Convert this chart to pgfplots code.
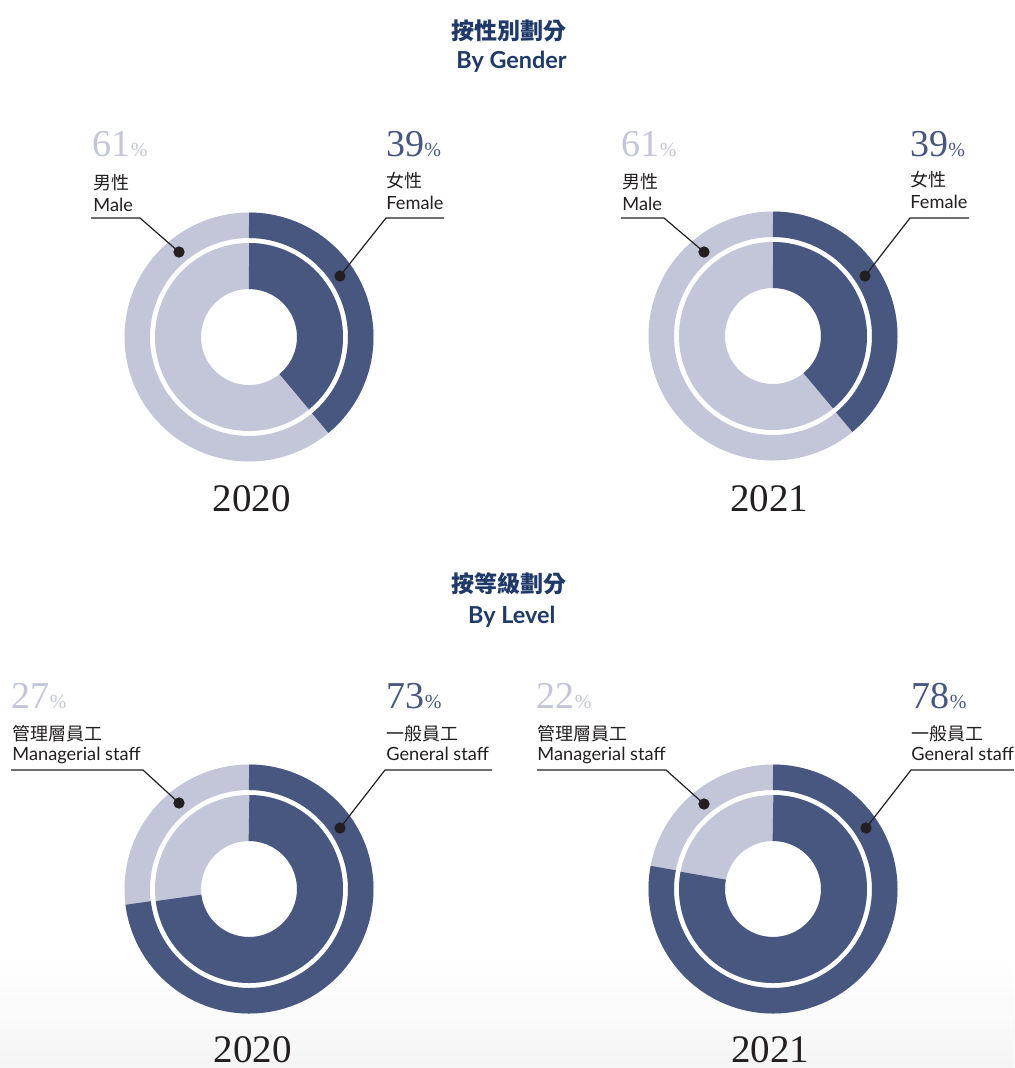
\documentclass[border=0pt]{standalone}
\usepackage{pgfplots}
\pgfplotsset{compat=1.18}
\usepackage{fontspec}
\setmainfont{Lato}
\newfontfamily\serif{Liberation Serif}
\newfontfamily\cjk{Noto Sans CJK TC}
\definecolor{cDark}{HTML}{475780}
\definecolor{cLight}{HTML}{C3C6D8}
\definecolor{cTitle}{HTML}{1F3A68}
\definecolor{cText}{HTML}{231F20}

% donut: centre x, centre y, dark share (%), light share (%)
\newcommand{\donut}[4]{%
  \addplot[draw=cLight, line width=12.75pt, domain=-2:362, samples=241] ({#1+111.75*cos(x)},{#2-111.75*sin(x)});
  \addplot[draw=cLight, line width=23pt, domain=-2:362, samples=241] ({#1+71*cos(x)},{#2-71*sin(x)});
  \addplot[draw=cDark, line width=12.75pt, domain=90-3.6*#3:90, samples=160] ({#1+111.75*cos(x)},{#2-111.75*sin(x)});
  \addplot[draw=cDark, line width=23pt, domain=90-3.6*#3:90, samples=160] ({#1+71*cos(x)},{#2-71*sin(x)});
}
\newcommand{\pct}[4]{% x, baseline, colour, value
  \node[anchor=base west, inner sep=0, text=#3] at (axis cs:#1,#2)
    {\serif\fontsize{19pt}{19pt}\selectfont #4{\fontsize{10pt}{10pt}\selectfont\%}};}
\newcommand{\lab}[5]{% x, baseline cjk, cjk text, baseline latin, latin text
  \node[anchor=base west, inner sep=0, text=cText] at (axis cs:#1,#2)
    {\cjk\fontsize{9pt}{9pt}\selectfont #3};
  \node[anchor=base west, inner sep=0, text=cText] at (axis cs:#1,#4)
    {\fontsize{9.1pt}{9.1pt}\selectfont #5};}
\newcommand{\yr}[3]{%
  \node[anchor=base, inner sep=0, text=cText] at (axis cs:#1,#2)
    {\serif\fontsize{19.5pt}{19.5pt}\selectfont #3};}

\begin{document}
\begin{tikzpicture}
\begin{axis}[hide axis, scale only axis, width=507pt, height=534pt,
  xmin=0, xmax=1014, ymin=0, ymax=1068, y dir=reverse, clip=false]
\fill[white] (axis cs:0,0) rectangle (axis cs:1014,1068);
\fill[top color=white, bottom color=black!4] (axis cs:0,960) rectangle (axis cs:1014,1068);

% titles
\node[anchor=base, inner sep=0, text=cTitle] at (axis cs:509,39)
  {\cjk\bfseries\fontsize{11.5pt}{11.5pt}\selectfont 按性別劃分};
\node[anchor=base, inner sep=0, text=cTitle] at (axis cs:511.5,68.5)
  {\bfseries\fontsize{11.7pt}{11.7pt}\selectfont By Gender};
\node[anchor=base, inner sep=0, text=cTitle] at (axis cs:509,592.5)
  {\cjk\bfseries\fontsize{11.5pt}{11.5pt}\selectfont 按等級劃分};
\node[anchor=base, inner sep=0, text=cTitle] at (axis cs:511.7,623)
  {\bfseries\fontsize{11.7pt}{11.7pt}\selectfont By Level};

% donuts (dark share, light share)
\donut{249}{337}{39}{61}
\donut{773}{336}{39}{61}
\donut{249}{889}{73}{27}
\donut{773}{889}{78}{22}

% leader lines
\addplot[draw=cText, line width=0.6pt] coordinates {(91,218) (140,218) (179,252)};
\addplot[draw=cText, line width=0.6pt] coordinates {(444,218) (386,218) (340,276)};
\addplot[draw=cText, line width=0.6pt] coordinates {(621,218) (664,218) (704,252)};
\addplot[draw=cText, line width=0.6pt] coordinates {(969,218) (910,218) (865,276)};
\addplot[draw=cText, line width=0.6pt] coordinates {(11,770) (143,770) (179,803)};
\addplot[draw=cText, line width=0.6pt] coordinates {(492,770) (385,770) (340,828)};
\addplot[draw=cText, line width=0.6pt] coordinates {(537,770) (666,770) (704,804)};
\addplot[draw=cText, line width=0.6pt] coordinates {(1014,770) (911,770) (866,828)};
% dots
\addplot[only marks, mark=*, mark size=2.6pt, color=cText] coordinates
  {(179,252) (340,276) (704,252) (865,276) (179,803) (340,828) (704,804) (866,828)};

% percentages
\pct{92.5}{156}{cLight}{61}
\pct{386}{156}{cDark}{39}
\pct{621.5}{156}{cLight}{61}
\pct{910}{156}{cDark}{39}
\pct{11.5}{708.5}{cLight}{27}
\pct{386.5}{708.5}{cDark}{73}
\pct{536.5}{708.5}{cLight}{22}
\pct{911.5}{708.5}{cDark}{78}

% labels
\lab{93}{189}{男性}{211}{Male}
\lab{386}{187}{女性}{209}{Female}
\lab{622}{188}{男性}{210}{Male}
\lab{910}{186}{女性}{208.5}{Female}
\lab{12}{740}{管理層員工}{760}{Managerial staff}
\lab{386}{740}{一般員工}{760}{General staff}
\lab{537}{740}{管理層員工}{760}{Managerial staff}
\lab{911}{740}{一般員工}{760}{General staff}

% years
\yr{252}{511}{2020}
\yr{769}{511}{2021}
\yr{252.5}{1062}{2020}
\yr{770}{1062}{2021}
\end{axis}
\end{tikzpicture}
\end{document}
